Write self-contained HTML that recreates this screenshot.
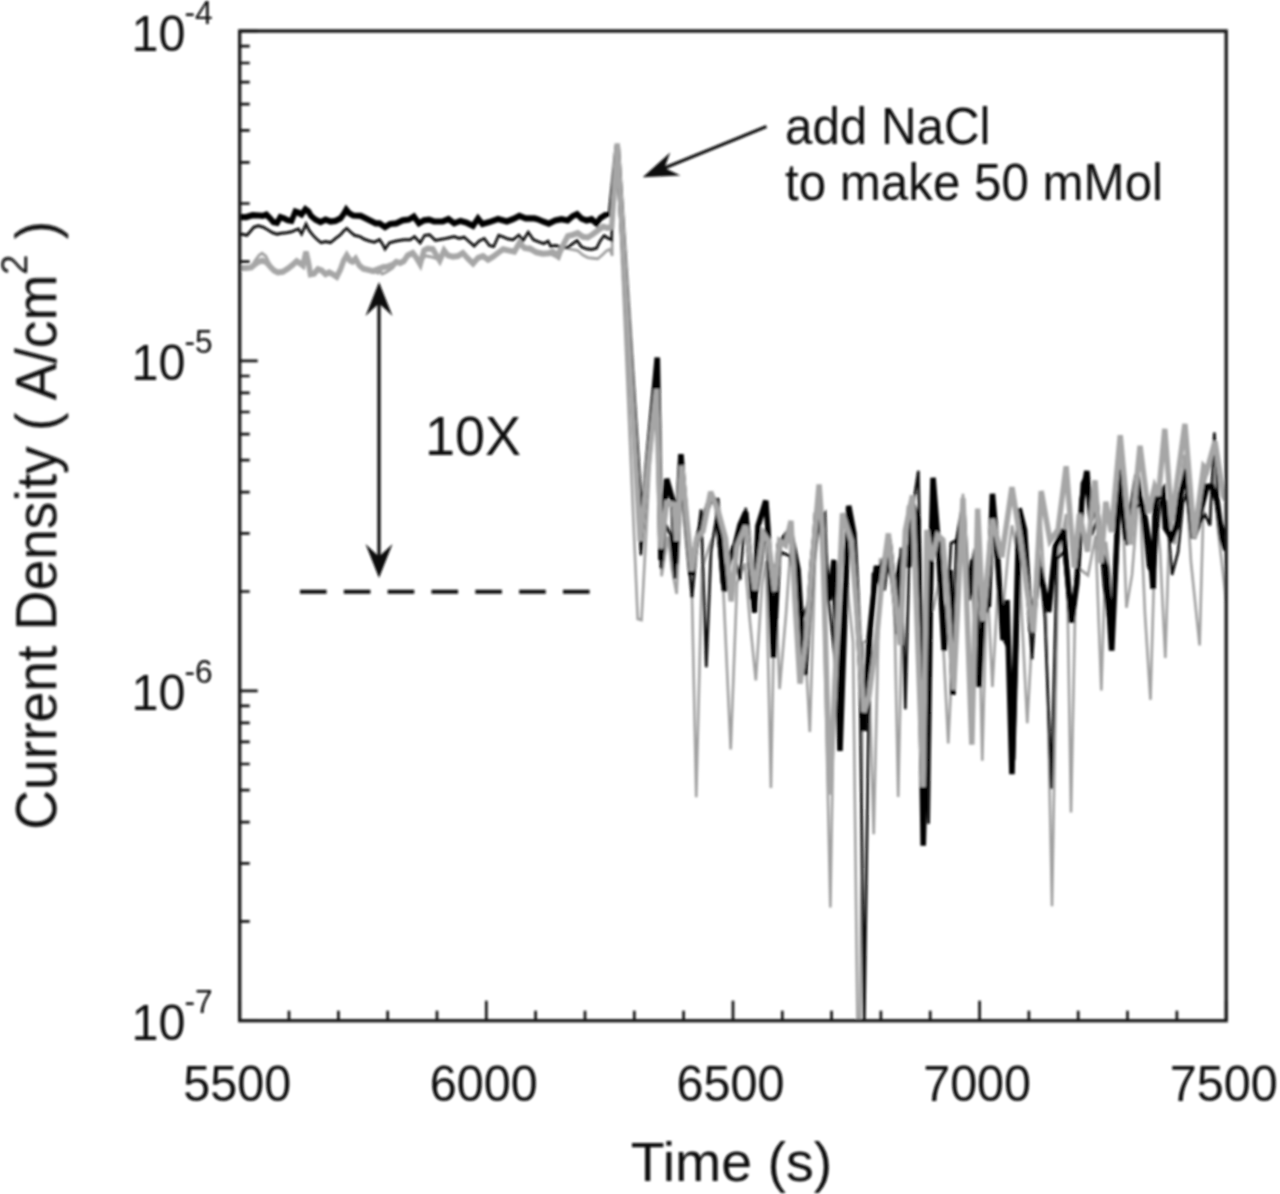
<!DOCTYPE html>
<html><head><meta charset="utf-8"><title>chart</title>
<style>
html,body{margin:0;padding:0;background:#fff;}
body{width:1280px;height:1194px;overflow:hidden;}
svg{display:block;}
text{font-family:"Liberation Sans",sans-serif;fill:#0a0a0a;}
</style></head><body>
<svg width="1280" height="1194" viewBox="0 0 1280 1194">
<defs><clipPath id="cp"><rect x="239.7" y="31.0" width="986.5" height="989.7"/></clipPath><filter id="bl" x="-2%" y="-2%" width="104%" height="104%"><feGaussianBlur stdDeviation="0.95"/></filter></defs>
<rect width="1280" height="1194" fill="#fff"/>
<g filter="url(#bl)">
<g clip-path="url(#cp)"><g transform="scale(0.9,1)">
<path d="M266.3 268.2 L273.7 268.2 L279.3 266.7 L283.4 260.5 L287.7 255.4 L291.1 253.2 L295.3 256.1 L299.6 263.6 L304.4 270.5 L308.6 272.4 L314.2 271.8 L319.8 268.6 L325.3 264.8 L329.6 261.1 L333.8 263.6 L336.6 265.5 L340.0 251.7 L342.8 263.0 L344.9 274.3 L349.1 273.6 L353.2 269.2 L357.4 270.5 L361.7 274.3 L365.8 272.4 L370.0 274.3 L374.2 276.8 L378.4 269.2 L381.9 260.5 L385.3 255.4 L388.9 260.5 L391.7 261.7 L395.1 258.6 L399.3 265.5 L403.6 268.6 L409.1 269.9 L416.1 271.5 L420.2 273.3 L422.2 270.5 L424.4 274.0 L426.4 273.3 L430.0 271.8 L436.2 268.0 L440.3 263.6 L444.6 263.6 L448.8 261.7 L452.9 256.7 L458.6 253.9 L462.7 258.6 L466.9 264.8 L469.0 260.5 L472.4 255.7 L478.1 256.7 L485.0 258.6 L489.2 261.1 L493.4 251.7 L497.6 256.1 L503.2 257.3 L508.8 256.7 L514.3 253.9 L519.9 259.2 L525.6 264.2 L531.1 258.6 L536.7 256.7 L542.2 260.5 L547.9 257.3 L553.4 253.9 L559.0 250.4 L564.6 251.4 L571.6 252.3 L577.1 244.1 L582.8 249.1 L588.9 246.9 L595.9 250.7 L602.9 252.5 L609.8 253.2 L616.8 256.3 L621.0 258.8 L623.8 251.9 L626.6 247.5 L635.0 249.4 L641.9 250.7 L647.6 255.1 L653.1 257.6 L658.7 258.2 L664.2 258.8 L669.9 254.4 L674.0 250.7 L677.6 249.4 L680.3 255.7 L680.0 228.0 L685.8 150.0 L708.6 618.9 L712.8 620.0 L722.2 461.1 L729.4 392.0 L735.1 576.2 L742.2 536.3 L746.7 569.9 L751.8 593.8 L757.8 481.7 L764.4 548.8 L768.9 596.6 L773.6 797.2 L780.0 568.5 L789.6 542.2 L795.6 531.3 L802.2 559.6 L811.9 749.5 L818.9 583.5 L827.8 563.4 L833.3 621.7 L839.8 680.4 L846.7 584.6 L851.1 560.8 L856.6 788.0 L861.1 572.0 L866.2 689.0 L873.3 614.6 L878.9 541.6 L886.7 580.7 L893.3 623.0 L899.8 732.0 L905.6 560.1 L910.1 516.2 L914.4 570.4 L922.6 907.5 L928.9 576.6 L936.1 544.0 L942.2 593.2 L947.8 642.1 L952.8 1030.0 L955.6 1030.0 L958.9 642.6 L964.4 640.0 L970.8 834.2 L977.8 558.6 L987.8 573.4 L993.3 586.8 L998.0 797.0 L1003.3 574.2 L1008.9 505.6 L1013.9 518.0 L1020.0 600.9 L1025.6 780.0 L1031.1 582.7 L1036.7 610.6 L1044.4 576.9 L1053.6 743.3 L1061.1 606.5 L1070.0 493.9 L1075.6 631.7 L1080.0 735.0 L1086.3 547.6 L1091.4 760.7 L1096.7 576.0 L1102.7 687.0 L1108.9 586.1 L1114.4 610.3 L1120.0 555.9 L1124.4 525.4 L1132.2 560.1 L1141.4 723.2 L1147.8 619.2 L1155.4 506.9 L1162.2 613.1 L1168.9 906.2 L1175.6 558.1 L1184.6 514.0 L1190.0 812.4 L1195.6 564.8 L1201.1 570.0 L1208.9 575.3 L1217.3 535.8 L1223.7 690.5 L1228.9 541.7 L1236.7 601.1 L1244.8 445.8 L1251.6 607.8 L1257.8 574.9 L1265.9 483.3 L1272.2 614.1 L1278.3 699.8 L1284.4 509.7 L1288.9 550.2 L1294.8 658.0 L1300.0 509.2 L1305.6 544.2 L1316.2 454.6 L1323.3 562.0 L1332.9 645.4 L1337.8 484.8 L1346.7 453.7 L1353.3 529.3 L1360.9 589.0 L1362.2 601.0" stroke="#a0a0a0" stroke-width="2.9" fill="none" stroke-linejoin="miter" stroke-miterlimit="3" stroke-linecap="butt"/>
<path d="M266.3 234.3 L269.6 234.3 L274.4 235.3 L277.9 231.6 L282.1 227.2 L287.0 225.9 L292.6 227.2 L297.4 229.7 L303.0 232.8 L307.9 234.1 L312.8 233.2 L318.3 232.8 L324.0 231.8 L328.1 230.1 L331.7 229.0 L335.1 234.1 L340.0 224.0 L343.4 230.3 L347.7 235.3 L351.9 239.1 L356.8 242.6 L361.7 241.6 L367.2 242.6 L372.8 238.5 L378.4 234.7 L381.9 230.9 L385.3 228.4 L389.6 232.2 L393.8 235.3 L400.0 236.6 L404.9 239.3 L410.4 241.0 L416.1 242.2 L421.7 239.7 L425.0 244.1 L427.8 249.1 L432.7 242.9 L440.3 241.0 L448.8 239.7 L455.8 239.7 L460.6 236.6 L466.9 242.9 L471.8 235.3 L477.3 234.7 L483.7 240.4 L492.0 239.1 L499.0 237.8 L504.6 236.6 L510.1 238.5 L515.8 237.2 L521.3 241.6 L526.9 246.0 L532.4 241.0 L538.1 238.5 L543.7 245.4 L548.6 246.6 L554.1 235.3 L559.7 237.2 L564.6 239.1 L570.2 239.7 L576.4 235.3 L581.3 240.4 L586.9 232.2 L592.6 239.7 L598.7 241.9 L604.2 243.7 L609.1 241.2 L611.9 246.3 L616.8 245.6 L625.2 246.9 L630.8 247.5 L636.3 243.7 L641.2 240.6 L646.1 246.9 L651.7 248.8 L657.3 249.4 L662.9 248.1 L667.1 240.6 L671.2 235.6 L675.4 238.1 L679.7 240.0 L680.0 222.0 L685.8 148.0 L712.2 555.2 L730.3 360.0 L734.4 568.6 L740.0 525.0 L745.0 535.0 L750.0 578.6 L756.7 479.3 L763.3 539.9 L768.9 597.9 L774.4 545.1 L778.9 509.5 L784.8 667.3 L790.0 551.3 L796.4 515.4 L802.2 583.5 L807.8 561.7 L814.4 545.6 L822.2 579.8 L828.6 507.8 L834.4 598.0 L840.0 599.2 L846.7 559.5 L851.1 528.3 L856.7 590.1 L862.2 564.0 L868.9 552.7 L877.8 556.1 L885.6 588.8 L892.2 617.1 L898.9 600.4 L905.6 512.3 L911.1 520.3 L916.6 513.4 L919.3 591.0 L925.6 640.0 L931.4 696.0 L937.8 586.0 L943.0 508.0 L948.9 545.7 L955.0 640.0 L960.2 1030.0 L965.1 720.0 L970.0 573.8 L976.7 569.7 L983.3 555.3 L990.0 575.5 L996.7 633.9 L1001.1 547.9 L1005.9 709.3 L1011.1 526.0 L1020.4 470.9 L1025.6 700.0 L1031.8 823.8 L1036.7 517.7 L1043.3 563.2 L1050.0 640.0 L1056.7 543.3 L1062.2 540.5 L1065.6 582.6 L1070.0 529.1 L1076.7 579.5 L1083.3 548.6 L1090.0 610.0 L1096.7 610.8 L1103.3 522.1 L1110.0 588.0 L1115.6 640.0 L1121.1 650.0 L1126.7 760.0 L1133.3 554.0 L1140.0 564.5 L1146.7 659.5 L1154.4 553.7 L1161.1 617.5 L1168.2 788.8 L1174.4 559.0 L1182.2 551.6 L1188.9 617.8 L1195.6 581.4 L1202.2 483.2 L1207.8 473.2 L1213.3 535.0 L1220.0 516.4 L1226.7 586.6 L1233.3 630.0 L1240.0 580.2 L1245.6 477.5 L1252.2 545.0 L1260.0 508.1 L1267.8 503.7 L1275.6 566.4 L1282.2 577.4 L1288.9 501.8 L1295.6 501.5 L1302.2 574.9 L1308.9 552.1 L1314.4 502.8 L1321.1 487.4 L1326.7 523.8 L1332.2 524.1 L1338.9 514.7 L1344.4 525.3 L1349.3 432.7 L1354.4 515.4 L1362.2 537.0" stroke="#0c0c0c" stroke-width="3.0" fill="none" stroke-linejoin="miter" stroke-miterlimit="3" stroke-linecap="butt"/>
<path d="M266.3 217.1 L273.7 217.1 L280.7 215.2 L287.7 215.5 L291.9 215.9 L296.0 214.6 L300.2 218.4 L303.7 222.1 L307.9 222.8 L311.4 217.1 L315.6 218.4 L319.8 220.3 L324.0 220.9 L328.1 211.5 L331.7 212.7 L335.1 214.6 L339.3 209.2 L342.8 211.5 L345.6 215.9 L350.4 219.6 L356.1 222.1 L361.7 219.6 L367.2 221.5 L372.8 220.9 L378.4 218.4 L381.9 214.0 L384.7 209.6 L388.1 213.3 L392.3 215.5 L400.8 215.9 L406.3 218.4 L411.9 220.9 L417.4 223.4 L421.7 223.4 L427.8 227.2 L433.4 224.0 L440.3 223.4 L447.3 220.3 L454.3 219.6 L459.9 216.5 L465.4 223.4 L471.1 220.3 L476.7 219.6 L482.2 221.5 L492.0 221.5 L498.3 219.0 L504.6 223.4 L511.6 220.9 L518.6 222.8 L525.6 225.9 L531.1 218.4 L536.0 224.0 L543.7 222.1 L553.4 219.0 L563.2 221.5 L570.2 219.0 L577.1 215.9 L584.1 218.4 L593.9 218.4 L597.2 219.2 L604.2 221.8 L609.8 223.6 L616.8 220.5 L623.8 219.2 L630.8 220.5 L636.3 216.1 L641.2 214.2 L646.1 218.6 L651.7 220.5 L657.3 219.2 L662.9 223.6 L667.1 218.0 L672.7 214.8 L677.6 213.6 L678.2 215.5 L685.8 146.0 L712.6 530.0 L730.3 357.6 L734.4 560.0 L740.7 479.0 L747.7 501.0 L750.4 563.6 L756.6 454.3 L762.2 520.0 L767.8 575.0 L774.4 540.0 L781.1 520.0 L788.9 500.0 L796.4 500.8 L804.9 591.3 L810.0 560.0 L816.0 548.5 L822.2 525.0 L828.6 512.0 L838.3 612.6 L842.2 526.0 L850.9 500.8 L853.3 530.0 L859.3 657.8 L865.6 545.0 L877.8 530.0 L886.7 570.0 L894.2 674.9 L902.2 565.0 L910.0 500.0 L914.4 540.0 L921.1 600.0 L926.7 560.0 L933.3 750.8 L943.0 505.8 L948.7 533.5 L953.3 620.0 L960.0 731.0 L965.6 640.0 L973.8 566.0 L981.1 590.0 L987.8 540.0 L994.4 595.0 L1001.1 560.0 L1005.6 546.0 L1010.0 567.0 L1014.4 505.0 L1020.0 520.0 L1025.8 845.6 L1036.7 477.8 L1042.2 540.0 L1049.1 650.6 L1055.6 570.0 L1058.7 695.0 L1064.4 540.0 L1070.0 510.0 L1075.6 600.0 L1081.1 560.0 L1087.8 687.0 L1092.2 610.0 L1098.2 605.0 L1102.7 493.9 L1107.2 540.8 L1114.4 640.0 L1118.9 600.0 L1124.4 774.1 L1132.4 508.6 L1138.4 530.0 L1142.9 594.4 L1145.9 631.9 L1154.8 567.6 L1165.2 611.8 L1172.7 546.1 L1181.7 530.0 L1190.6 622.5 L1196.4 583.6 L1202.2 500.0 L1207.6 471.1 L1212.2 520.0 L1217.8 500.0 L1223.3 554.0 L1229.2 567.6 L1235.2 650.6 L1238.2 594.4 L1244.4 470.0 L1251.1 540.0 L1258.9 500.0 L1263.3 475.0 L1266.2 495.5 L1272.6 519.3 L1277.8 550.0 L1281.3 589.0 L1283.8 500.5 L1292.2 490.5 L1294.9 528.0 L1301.9 538.0 L1307.4 525.6 L1311.7 495.5 L1318.9 470.0 L1321.1 500.0 L1326.0 538.1 L1331.1 525.6 L1334.0 510.6 L1341.1 486.7 L1346.7 486.7 L1352.2 500.5 L1357.8 538.2 L1361.9 550.0" stroke="#030303" stroke-width="6.2" fill="none" stroke-linejoin="miter" stroke-miterlimit="3" stroke-linecap="butt"/>
<path d="M266.3 268.0 L273.7 268.0 L279.3 267.4 L283.4 264.2 L287.7 261.5 L291.9 260.7 L296.0 262.3 L300.2 266.7 L304.4 270.5 L308.6 272.4 L314.2 271.8 L319.8 268.6 L325.3 264.8 L329.6 261.1 L333.8 263.6 L336.6 265.5 L340.0 251.7 L342.8 263.0 L344.9 274.3 L349.1 273.6 L353.2 269.2 L357.4 270.5 L361.7 274.3 L365.8 272.4 L370.0 274.3 L374.2 276.8 L378.4 269.2 L381.9 260.5 L385.3 255.4 L388.9 260.5 L391.7 261.7 L395.1 258.6 L399.3 265.5 L403.6 268.6 L409.1 269.9 L414.7 271.1 L420.2 269.2 L426.4 267.0 L430.6 266.7 L436.2 264.8 L440.3 261.7 L444.6 263.0 L448.8 261.1 L452.9 255.4 L458.6 252.9 L462.7 257.9 L466.9 264.2 L471.1 250.4 L475.2 248.5 L480.9 249.1 L485.0 255.4 L488.6 260.5 L493.4 250.4 L497.6 255.4 L503.2 256.7 L508.8 256.1 L514.3 252.9 L519.9 258.6 L525.6 263.6 L531.1 257.9 L536.7 256.1 L542.2 259.8 L547.9 256.7 L553.4 252.9 L559.0 249.1 L564.6 250.4 L571.6 251.7 L577.1 242.9 L582.8 247.9 L589.8 249.1 L595.9 252.5 L602.9 253.8 L609.8 253.2 L614.0 251.9 L618.9 255.1 L622.4 250.7 L630.8 236.2 L636.3 234.9 L641.9 233.1 L647.6 236.8 L653.1 237.5 L658.7 234.3 L664.2 230.6 L669.9 226.8 L675.4 228.0 L679.7 226.8 L685.8 143.5 L711.3 541.0 L729.4 389.0 L734.4 548.5 L740.7 503.0 L748.9 504.6 L751.8 541.0 L757.4 465.6 L768.6 571.0 L774.1 538.5 L781.1 531.0 L789.6 492.0 L797.8 510.9 L806.2 538.5 L812.4 601.3 L818.9 546.0 L828.6 526.0 L834.2 561.0 L838.9 590.0 L848.1 533.5 L853.7 541.0 L860.7 591.0 L866.2 541.0 L872.8 545.0 L878.9 521.0 L883.3 600.0 L888.9 683.6 L895.6 640.0 L902.6 561.0 L910.1 484.5 L913.8 531.0 L922.0 794.6 L928.9 660.0 L936.1 513.4 L945.9 541.0 L951.1 600.0 L959.8 712.0 L965.3 697.0 L973.8 640.0 L980.0 580.0 L987.1 533.5 L994.7 600.0 L1000.3 645.0 L1005.9 531.0 L1013.9 495.5 L1025.6 787.0 L1029.8 530.0 L1035.6 560.0 L1041.7 535.4 L1047.6 540.0 L1053.6 610.0 L1059.6 689.7 L1064.4 600.0 L1070.0 498.0 L1079.8 744.6 L1086.3 508.6 L1092.2 621.0 L1102.7 519.0 L1113.1 556.9 L1124.4 487.2 L1134.0 540.8 L1141.1 590.0 L1148.1 632.0 L1151.1 590.0 L1156.9 491.2 L1166.7 540.8 L1175.6 530.0 L1184.6 466.3 L1193.6 567.6 L1199.4 514.0 L1208.4 551.5 L1216.7 480.4 L1223.3 563.0 L1228.7 501.8 L1234.9 532.0 L1244.7 435.2 L1255.9 544.5 L1266.7 445.9 L1276.1 513.0 L1283.0 486.7 L1287.2 495.5 L1294.2 428.9 L1301.9 520.6 L1316.6 423.9 L1327.0 538.2 L1337.4 466.6 L1341.1 470.4 L1350.0 441.5 L1359.1 495.5 L1362.2 500.0" stroke="#a6a6a6" stroke-width="6.0" fill="none" stroke-linejoin="miter" stroke-miterlimit="3" stroke-linecap="butt"/>
</g></g>
<rect x="239.7" y="31.0" width="986.5" height="989.7" fill="none" stroke="#141414" stroke-width="3.3"/>
<path d="M239.7 31.0h18 M239.7 261.6h10 M239.7 203.5h10 M239.7 162.3h10 M239.7 130.3h10 M239.7 104.2h10 M239.7 82.1h10 M239.7 63.0h10 M239.7 46.1h10 M239.7 360.9h18 M239.7 591.5h10 M239.7 533.4h10 M239.7 492.2h10 M239.7 460.2h10 M239.7 434.1h10 M239.7 412.0h10 M239.7 392.9h10 M239.7 376.0h10 M239.7 690.8h18 M239.7 921.4h10 M239.7 863.3h10 M239.7 822.1h10 M239.7 790.1h10 M239.7 764.0h10 M239.7 741.9h10 M239.7 722.8h10 M239.7 705.9h10 M239.7 1020.7h18 M239.7 1020.7v-20 M289.0 1020.7v-10 M338.4 1020.7v-10 M387.7 1020.7v-10 M437.0 1020.7v-10 M486.3 1020.7v-20 M535.6 1020.7v-10 M585.0 1020.7v-10 M634.3 1020.7v-10 M683.6 1020.7v-10 M733.0 1020.7v-20 M782.3 1020.7v-10 M831.6 1020.7v-10 M880.9 1020.7v-10 M930.2 1020.7v-10 M979.6 1020.7v-20 M1028.9 1020.7v-10 M1078.2 1020.7v-10 M1127.5 1020.7v-10 M1176.9 1020.7v-10 M1226.2 1020.7v-20" stroke="#141414" stroke-width="2.7" fill="none"/>
<g transform="translate(237.2,1100.5)  scale(0.96,1)"><text font-size="50.52" text-anchor="middle">5500</text></g><g transform="translate(483.8,1100.5)  scale(0.96,1)"><text font-size="50.52" text-anchor="middle">6000</text></g><g transform="translate(730.5,1100.5)  scale(0.96,1)"><text font-size="50.52" text-anchor="middle">6500</text></g><g transform="translate(977.1,1100.5)  scale(0.96,1)"><text font-size="50.52" text-anchor="middle">7000</text></g><g transform="translate(1223.7,1100.5)  scale(0.96,1)"><text font-size="50.52" text-anchor="middle">7500</text></g><g transform="translate(131.5,50.5)  scale(0.96,1)"><text font-size="50.52" text-anchor="start">10<tspan dy="-27" dx="-1" font-size="33">-4</tspan></text></g><g transform="translate(131.5,380.4)  scale(0.96,1)"><text font-size="50.52" text-anchor="start">10<tspan dy="-27" dx="-1" font-size="33">-5</tspan></text></g><g transform="translate(131.5,710.3)  scale(0.96,1)"><text font-size="50.52" text-anchor="start">10<tspan dy="-27" dx="-1" font-size="33">-6</tspan></text></g><g transform="translate(131.5,1040.2)  scale(0.96,1)"><text font-size="50.52" text-anchor="start">10<tspan dy="-27" dx="-1" font-size="33">-7</tspan></text></g>
<g transform="translate(731.5,1181)  scale(0.985,1)"><text font-size="56.35" text-anchor="middle">Time (s)</text></g>
<g transform="translate(56.2,525.3) rotate(-90) scale(0.975,1)"><text font-size="56.62" text-anchor="middle">Current Density ( A/cm<tspan dy="-29" font-size="37">2</tspan><tspan dy="29"> )</tspan></text></g>
<g transform="translate(785,143.5)  scale(0.96,1)"><text font-size="51.35" text-anchor="start">add NaCl</text></g>
<g transform="translate(785,200)  scale(0.96,1)"><text font-size="51.35" text-anchor="start">to make 50 mMol</text></g>
<g transform="translate(425,455.3)  scale(0.96,1)"><text font-size="56.25" text-anchor="start">10X</text></g>
<path d="M300 591.7H591" stroke="#0c0c0c" stroke-width="4.1" stroke-dasharray="26.6 17.23" fill="none"/>
<path d="M379 300V560" stroke="#111" stroke-width="3.3" fill="none"/>
<path d="M379 282L392.5 316L379 303.5L365.5 316Z" fill="#111"/>
<path d="M379 578L392.5 544L379 556.5L365.5 544Z" fill="#111"/>
<path d="M766.5 126.6L662 169" stroke="#111" stroke-width="3.2" fill="none"/>
<path d="M642.7 177.3L670.2 152.4L664.5 168L680.5 175.6Z" fill="#111"/>
</g>
</svg>
</body></html>
